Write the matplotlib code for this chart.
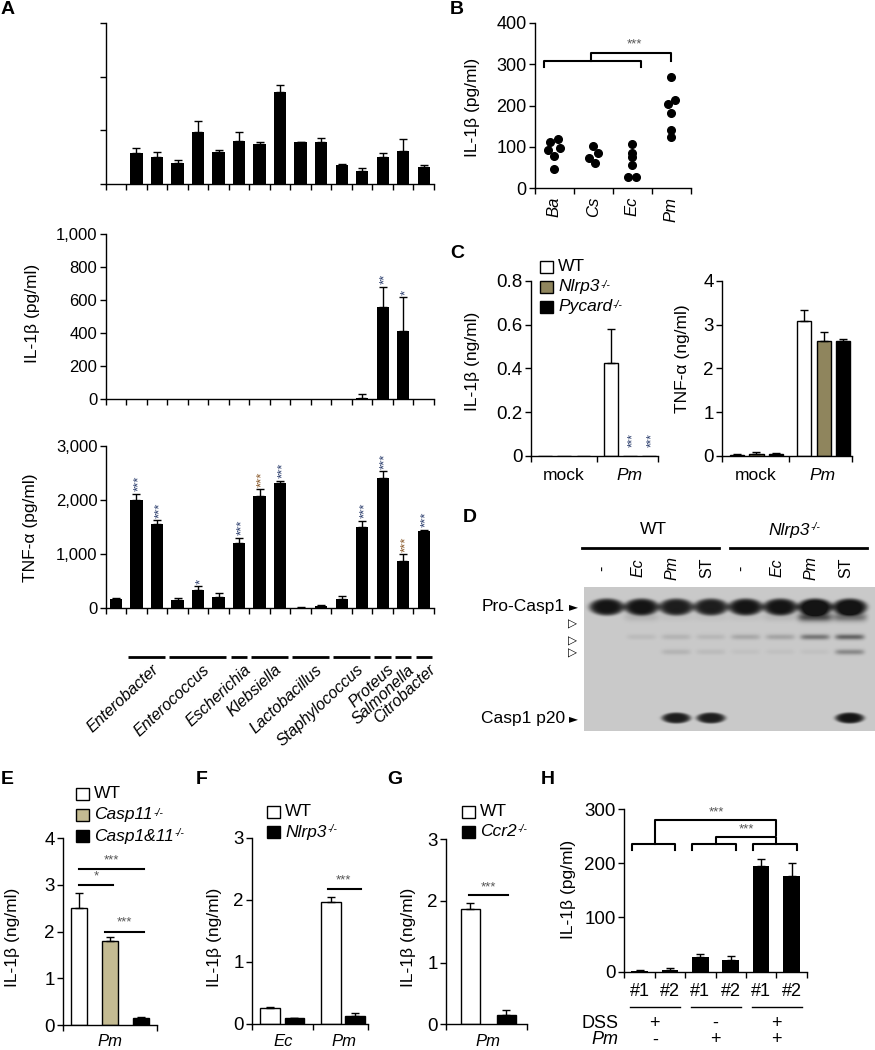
import numpy as np
import matplotlib.pyplot as plt
from matplotlib import transforms
from matplotlib.patches import Rectangle
from matplotlib.ticker import FuncFormatter

plt.rcParams['font.family'] = ['Liberation Sans', 'DejaVu Sans']
plt.rcParams['axes.linewidth'] = 1.0

# ---------------- data ----------------
# A: 16 strains (index 0 = medium control)
genera = ['Enterobacter', 'Enterococcus', 'Escherichia', 'Klebsiella', 'Lactobacillus',
          'Staphylococcus', 'Proteus', 'Salmonella', 'Citrobacter']
genus_sizes = [2, 3, 1, 2, 2, 2, 1, 1, 1]
screen_vals = [0, 0.58, 0.50, 0.40, 0.97, 0.59, 0.80, 0.74, 1.71, 0.78, 0.79, 0.35, 0.25, 0.51, 0.62, 0.31]
screen_err = [0, 0.10, 0.10, 0.04, 0.20, 0.05, 0.16, 0.05, 0.13, 0.01, 0.06, 0.02, 0.04, 0.07, 0.22, 0.04]
il1b_vals = [0, 0, 0, 0, 0, 0, 0, 0, 0, 0, 0, 0, 10, 562, 416, 0]
il1b_err = [0, 0, 0, 0, 0, 0, 0, 0, 0, 0, 0, 0, 20, 117, 202, 0]
il1b_sig = ['', '', '', '', '', '', '', '', '', '', '', '', '', '**', '*', '']
tnf_vals = [180, 2000, 1559, 154, 345, 203, 1201, 2076, 2310, 10, 40, 166, 1497, 2403, 881, 1423]
tnf_err = [15, 113, 68, 31, 62, 80, 99, 124, 50, 5, 15, 68, 123, 129, 117, 31]
tnf_sig = ['', '***', '***', '', '*', '', '***', '***', '***', '', '', '', '***', '***', '***', '***']

# B: IL-1b per isolate
b_species = ['Ba', 'Cs', 'Ec', 'Pm']
b_ba = [111, 120, 93, 98, 78, 47]
b_cs = [101, 85, 72, 60]
b_ec = [106, 86, 76, 56, 28, 27]
b_pm = [270, 213, 203, 183, 142, 125]
b_ba_dx = [-0.12, 0.09, -0.16, 0.14, 0, 0]
b_cs_dx = [0, 0.11, -0.11, 0.03]
b_ec_dx = [0, 0, 0, 0, -0.1, 0.1]
b_pm_dx = [0, 0.1, -0.08, 0, 0, 0]

# C: genotype x condition
c_conditions = ['mock', 'Pm']
c_genotypes = ['WT', 'Nlrp3', 'Pycard']
c_il1b = [[0, 0.426], [0, 0], [0, 0]]
c_il1b_err = [[0, 0.152], [0, 0], [0, 0]]
c_il1b_sig = [['', ''], ['', '***'], ['', '***']]
c_tnf = [[0.03, 3.09], [0.05, 2.63], [0.04, 2.63]]
c_tnf_err = [[0.01, 0.24], [0.03, 0.21], [0.03, 0.03]]

# D: western blot band intensities per lane
blot_lanes = ['-', 'Ec', 'Pm', 'ST', '-', 'Ec', 'Pm', 'ST']
pro_casp1 = [1.0, 1.0, 0.95, 0.95, 1.0, 1.0, 1.1, 1.05]
cleaved_a = [0.0, 0.12, 0.05, 0.05, 0.05, 0.1, 0.7, 0.5]
cleaved_b = [0.0, 0.08, 0.12, 0.1, 0.18, 0.2, 0.45, 0.55]
cleaved_c = [0.0, 0.0, 0.12, 0.08, 0.05, 0.05, 0.05, 0.35]
casp1_p20 = [0, 0, 0.95, 0.95, 0, 0, 0, 1.0]

# E
e_vals = [2.51, 1.79, 0.14]
e_err = [0.32, 0.10, 0.03]
# F
f_groups = ['Ec', 'Pm']
f_wt = [0.25, 1.97]
f_wt_err = [0.02, 0.08]
f_ko = [0.09, 0.13]
f_ko_err = [0.01, 0.04]
# G
g_vals = [1.87, 0.15]
g_err = [0.10, 0.08]
# H
h_labels = ['#1', '#2', '#1', '#2', '#1', '#2']
h_vals = [2, 3, 27.6, 20.9, 194, 176]
h_err = [1.5, 3, 5.5, 8.6, 14, 25]
h_dss = ['+', '-', '+']
h_pm = ['-', '+', '+']

W, H = 875, 1050
fig = plt.figure(figsize=(8.75, 10.5), dpi=100)

NAVY = '#2d3f6e'
BROWN = '#8a5a2b'
GREY = '#555555'
OLIVE = '#8f855d'
KHAKI = '#c4bb92'
TICK_FS = 12
LAB_FS = 12.5
STAR_FS = 9.5


def fx(x):
    return x / W


def fy(y):
    return 1 - y / H


def px_axes(x0, y0, x1, y1):
    ax = fig.add_axes([x0 / W, 1 - y1 / H, (x1 - x0) / W, (y1 - y0) / H])
    ax.spines['top'].set_visible(False)
    ax.spines['right'].set_visible(False)
    ax.tick_params(direction='out', length=4, width=1, labelsize=TICK_FS, pad=2)
    return ax


def bt(ax):
    return transforms.blended_transform_factory(ax.transData, fig.transFigure)


def err_up(ax, x, v, e):
    x, v, e = np.asarray(x, float), np.asarray(v, float), np.asarray(e, float)
    m = e > 0
    ax.errorbar(x[m], v[m], yerr=[np.zeros(m.sum()), e[m]], fmt='none', ecolor='k',
                elinewidth=1, capsize=3, capthick=1)


def vstars(ax, x, y, s, color, fs=STAR_FS):
    # rotated asterisks sit left of centre, so nudge them right
    ax.annotate(s, (x, y), xytext=(2, 2), textcoords='offset points', rotation=90,
                ha='center', va='bottom', fontsize=fs, color=color)


def ylab(x, y, s):
    fig.text(fx(x), fy(y), s, rotation=90, ha='center', va='center', fontsize=LAB_FS)


def letter(x, y, s):
    fig.text(fx(x), fy(y), s, ha='center', va='center', fontsize=14, fontweight='bold')


def ko_label(ax, x, y, name, transform, fs=LAB_FS, ha='left'):
    t = ax.text(x, y, name, transform=transform, style='italic', fontsize=fs, ha=ha, va='center')
    ax.annotate('-/-', xy=(1, 1), xycoords=t, xytext=(0.5, 0), textcoords='offset points',
                ha='left', va='top', fontsize=fs * 0.6, style='italic', annotation_clip=False)


def legend_box(ax, x, y, color, label, knockout=True):
    fig.add_artist(Rectangle((fx(x), fy(y + 6)), 13 / W, 12 / H, transform=fig.transFigure,
                             facecolor=color, edgecolor='k', lw=1))
    if knockout:
        ko_label(ax, fx(x + 18), fy(y), label, fig.transFigure)
    else:
        fig.text(fx(x + 18), fy(y), label, ha='left', va='center', fontsize=LAB_FS)


comma = FuncFormatter(lambda v, p: f'{int(v):,}')

# ---------------- A ----------------
xa = np.arange(16) + 0.5
axA1 = px_axes(105.7, 23, 434, 184)
axA1.bar(xa, screen_vals, 0.6, color='k')
err_up(axA1, xa, screen_vals, screen_err)
axA1.set_xlim(0, 16)
axA1.set_ylim(0, 3)
axA1.set_yticks([0, 1, 2, 3])
axA1.set_yticklabels([])
axA1.set_xticks(np.arange(17))
axA1.set_xticklabels([])

axA2 = px_axes(105.7, 234.3, 434, 399.3)
axA2.bar(xa, il1b_vals, 0.6, color='k')
err_up(axA2, xa, il1b_vals, il1b_err)
for i, s in enumerate(il1b_sig):
    if s:
        vstars(axA2, xa[i], il1b_vals[i] + il1b_err[i], s, NAVY)
axA2.set_xlim(0, 16)
axA2.set_ylim(0, 1000)
axA2.set_yticks(range(0, 1001, 200))
axA2.yaxis.set_major_formatter(comma)
axA2.set_xticks(np.arange(17))
axA2.set_xticklabels([])
ylab(32, 313, 'IL-1β (pg/ml)')

axA3 = px_axes(105.7, 446, 434, 608.3)
axA3.bar(xa, tnf_vals, 0.6, color='k')
err_up(axA3, xa, tnf_vals, tnf_err)
for i, s in enumerate(tnf_sig):
    if s:
        vstars(axA3, xa[i], tnf_vals[i] + tnf_err[i], s, BROWN if i in (7, 14) else NAVY)
axA3.set_xlim(0, 16)
axA3.set_ylim(0, 3000)
axA3.set_yticks(range(0, 3001, 1000))
axA3.yaxis.set_major_formatter(comma)
axA3.set_xticks(np.arange(17))
axA3.set_xticklabels([])
ylab(31, 528, 'TNF-α (pg/ml)')

# genus brackets and labels
start = 1
for g, n in zip(genera, genus_sizes):
    axA3.plot([start + 0.1, start + n - 0.12], [fy(657), fy(657)], color='k', lw=2,
              transform=bt(axA3), clip_on=False, solid_capstyle='butt')
    axA3.text(start + n / 2 + 0.2, fy(662), g, transform=bt(axA3), rotation=43,
              rotation_mode='anchor', ha='right', va='top', fontsize=11.5, style='italic')
    start += n

# ---------------- B ----------------
axB = px_axes(535, 22.7, 690.7, 188.3)
for i, (vals, dx) in enumerate(zip([b_ba, b_cs, b_ec, b_pm], [b_ba_dx, b_cs_dx, b_ec_dx, b_pm_dx])):
    axB.plot(np.array(dx) + i + 0.5, vals, 'o', color='k', ms=5.5, clip_on=False)
axB.set_xlim(0, 4)
axB.set_ylim(0, 400)
axB.set_yticks([0, 100, 200, 300, 400])
axB.tick_params(axis='y', labelsize=13)
axB.set_xticks(np.arange(5))
axB.set_xticklabels([])
axB.set_xticks(np.arange(4) + 0.5, minor=True)
axB.set_xticklabels(b_species, minor=True, rotation=90, style='italic', fontsize=12)
axB.tick_params(axis='x', which='minor', length=0, pad=6)
axB.plot([0.24, 0.24, 2.72, 2.72], [294, 307, 307, 294], color='k', lw=1.5, clip_on=False)
axB.plot([1.45, 1.45, 3.5, 3.5], [307, 328, 328, 307], color='k', lw=1.5, clip_on=False)
axB.text(2.56, 333, '***', ha='center', va='bottom', fontsize=STAR_FS, color=GREY)
ylab(473, 107, 'IL-1β (pg/ml)')

# ---------------- C ----------------
c_off = [0.22, 0.51, 0.80]
c_cols = ['white', OLIVE, 'k']


def c_panel(x0, x1, vals, errs, ymax, yticks, yticklabels):
    ax = px_axes(x0, 280.7, x1, 456)
    for k in range(3):
        xs = np.arange(2) + c_off[k]
        ax.bar(xs, vals[k], 0.21, color=c_cols[k], edgecolor='k', lw=1)
        err_up(ax, xs, vals[k], errs[k])
    ax.set_xlim(0, 1.93)
    ax.set_ylim(0, ymax)
    ax.set_yticks(yticks)
    ax.set_yticklabels(yticklabels)
    ax.tick_params(axis='y', labelsize=13.5)
    ax.set_xticks([0, 1, 1.93])
    ax.set_xticklabels([])
    for j, c in enumerate(c_conditions):
        ax.text(j + 0.5, fy(475), c, transform=bt(ax), ha='center', va='center', fontsize=LAB_FS,
                style='italic' if c == 'Pm' else 'normal')
    return ax


axC1 = c_panel(530.7, 658, c_il1b, c_il1b_err, 0.8, [0, 0.2, 0.4, 0.6, 0.8],
               ['0', '0.2', '0.4', '0.6', '0.8'])
for k in range(3):
    for j in range(2):
        s = c_il1b_sig[k][j]
        if s:
            vstars(axC1, j + c_off[k], 0.03, s, NAVY, fs=8.5)
ylab(472, 361, 'IL-1β (ng/ml)')
axC2 = c_panel(722.3, 851.7, c_tnf, c_tnf_err, 4, [0, 1, 2, 3, 4], ['0', '1', '2', '3', '4'])
ylab(682, 359, 'TNF-α (ng/ml)')
legend_box(axC1, 540, 267, 'white', 'WT', knockout=False)
legend_box(axC1, 540, 287, OLIVE, 'Nlrp3')
legend_box(axC1, 540, 307, 'k', 'Pycard')

# ---------------- D ----------------
LANE = 34.7
axD = fig.add_axes([fx(584), fy(731), (875 - 584) / W, (731 - 587) / H])
hgt, wid = 144, 291
yy, xx = np.mgrid[0:hgt, 0:wid] + 0.5
dark = np.zeros((hgt, wid))
for i in range(8):
    cx = (i + 0.66) * LANE
    wide = np.exp(-((xx - cx) / 17.0) ** 6)
    narrow = np.exp(-((xx - cx) / 14.5) ** 6)
    pill = np.exp(-(((xx - cx) / 17.5) ** 2 + ((yy - 20) / 8.5) ** 2) ** 3)
    dark += pro_casp1[i] * pill
    dark += cleaved_a[i] * wide * np.exp(-((yy - 30) / 4.5) ** 2)
    dark += cleaved_b[i] * narrow * np.exp(-((yy - 50) / 2.8) ** 2)
    dark += cleaved_c[i] * narrow * np.exp(-((yy - 65) / 2.8) ** 2)
    dark += casp1_p20[i] * np.exp(-(((xx - cx) / 14.5) ** 2 + ((yy - 131) / 5.5) ** 2) ** 3)
img = 0.79 * (1 - 0.9 * np.clip(dark, 0, 1))
axD.imshow(img, cmap='gray', vmin=0, vmax=1, extent=(0, wid / LANE, hgt, 0), aspect='auto',
           interpolation='bilinear')
axD.set_xlim(0, wid / LANE)
axD.set_ylim(hgt, 0)
axD.axis('off')
for i, lab in enumerate(blot_lanes):
    axD.text(i + 0.55, fy(568), lab, transform=bt(axD), rotation=90, ha='center', va='center',
             fontsize=11.5, style='italic' if lab in ('Ec', 'Pm') else 'normal')
for x0, x1 in [(-0.05, 3.9), (4.2, 8.15)]:
    axD.plot([x0, x1], [fy(548.3), fy(548.3)], color='k', lw=2, transform=bt(axD), clip_on=False)
axD.text(2.0, fy(530), 'WT', transform=bt(axD), ha='center', va='center', fontsize=LAB_FS)
ko_label(axD, 5.9, fy(530), 'Nlrp3', bt(axD), ha='center')
fig.text(fx(565), fy(607), 'Pro-Casp1', ha='right', va='center', fontsize=LAB_FS)
fig.text(fx(565), fy(719), 'Casp1 p20', ha='right', va='center', fontsize=LAB_FS)
for yv in (607, 719):
    fig.text(fx(573), fy(yv), '►', ha='center', va='center', fontsize=8.5, family='DejaVu Sans')
for yv in (624, 641, 653):
    fig.text(fx(573), fy(yv), '▷', ha='center', va='center', fontsize=8.5, family='DejaVu Sans')

# ---------------- E ----------------
BOTTOM_Y = 1041
axE = px_axes(63.3, 838.3, 156.7, 1025)
xe = np.arange(3) + 0.5
axE.bar(xe, e_vals, 0.5, color=['white', KHAKI, 'k'], edgecolor='k', lw=1)
err_up(axE, xe, e_vals, e_err)
axE.set_xlim(0, 3)
axE.set_ylim(0, 4)
axE.set_yticks([0, 1, 2, 3, 4])
axE.tick_params(axis='y', labelsize=13.5)
axE.set_xticks([0, 3])
axE.set_xticklabels([])
for x0, x1, yv, s in [(0.5, 2.6, 3.34, '***'), (0.5, 1.6, 2.99, '*'), (1.35, 2.6, 2.0, '***')]:
    axE.plot([x0, x1], [yv, yv], color='k', lw=1.5)
    axE.text((x0 + x1) / 2, yv + 0.06, s, ha='center', va='bottom', fontsize=STAR_FS, color=GREY)
axE.text(1.5, fy(BOTTOM_Y), 'Pm', transform=bt(axE), ha='center', va='center', fontsize=12,
         style='italic')
ylab(13, 937, 'IL-1β (ng/ml)')
legend_box(axE, 76, 794, 'white', 'WT', knockout=False)
legend_box(axE, 76, 815, KHAKI, 'Casp11')
legend_box(axE, 76, 836, 'k', 'Casp1&11')

# ---------------- F ----------------
axF = px_axes(252.3, 837.7, 368, 1024)
xf = np.arange(2)
axF.bar(xf + 0.29, f_wt, 0.32, color='white', edgecolor='k', lw=1)
axF.bar(xf + 0.69, f_ko, 0.32, color='k', edgecolor='k', lw=1)
err_up(axF, xf + 0.29, f_wt, f_wt_err)
err_up(axF, xf + 0.69, f_ko, f_ko_err)
axF.set_xlim(0, 1.9)
axF.set_ylim(0, 3)
axF.set_yticks([0, 1, 2, 3])
axF.tick_params(axis='y', labelsize=13.5)
axF.set_xticks([0, 1, 1.9])
axF.set_xticklabels([])
axF.plot([1.25, 1.78], [2.18, 2.18], color='k', lw=1.5)
axF.text(1.5, 2.22, '***', ha='center', va='bottom', fontsize=STAR_FS, color=GREY)
for j, g in enumerate(f_groups):
    axF.text(j + 0.5, fy(BOTTOM_Y), g, transform=bt(axF), ha='center', va='center', fontsize=12,
             style='italic')
ylab(215, 937, 'IL-1β (ng/ml)')
legend_box(axF, 267, 812, 'white', 'WT', knockout=False)
legend_box(axF, 267, 832, 'k', 'Nlrp3')

# ---------------- G ----------------
axG = px_axes(446, 839.3, 527.3, 1024.3)
xg = [0.3, 0.74]
axG.bar(xg, g_vals, 0.23, color=['white', 'k'], edgecolor='k', lw=1)
err_up(axG, xg, g_vals, g_err)
axG.set_xlim(0, 1)
axG.set_ylim(0, 3)
axG.set_yticks([0, 1, 2, 3])
axG.tick_params(axis='y', labelsize=13.5)
axG.set_xticks([0, 1])
axG.set_xticklabels([])
axG.plot([0.28, 0.76], [2.09, 2.09], color='k', lw=1.5)
axG.text(0.52, 2.13, '***', ha='center', va='bottom', fontsize=STAR_FS, color=GREY)
axG.text(0.52, fy(BOTTOM_Y), 'Pm', transform=bt(axG), ha='center', va='center', fontsize=12,
         style='italic')
ylab(408, 937, 'IL-1β (ng/ml)')
legend_box(axG, 462, 812, 'white', 'WT', knockout=False)
legend_box(axG, 462, 832, 'k', 'Ccr2')

# ---------------- H ----------------
axH = px_axes(624.3, 809, 806.7, 971.7)
xh = np.arange(6) + 0.5
axH.bar(xh, h_vals, 0.55, color='k')
err_up(axH, xh, h_vals, h_err)
axH.set_xlim(0, 6)
axH.set_ylim(0, 300)
axH.set_yticks([0, 100, 200, 300])
axH.tick_params(axis='y', labelsize=13.5)
axH.set_xticks(np.arange(7))
axH.set_xticklabels([])
for p in range(3):
    x0 = 2 * p
    axH.plot([x0 + 0.24, x0 + 0.24, x0 + 1.68, x0 + 1.68], [224, 235.5, 235.5, 224], color='k',
             lw=1.5, clip_on=False)
axH.plot([1, 1, 5, 5], [235.5, 279.6, 279.6, 252], color='k', lw=1.5, clip_on=False)
axH.plot([3, 3, 5, 5], [235.5, 249, 249, 235.5], color='k', lw=1.5, clip_on=False)
axH.text(3.04, 283, '***', ha='center', va='bottom', fontsize=STAR_FS, color=GREY)
axH.text(4.02, 252, '***', ha='center', va='bottom', fontsize=STAR_FS, color=GREY)
for i, lab in enumerate(h_labels):
    axH.text(xh[i], fy(991.7), lab, transform=bt(axH), ha='center', va='center', fontsize=13)
for p in range(3):
    axH.plot([2 * p + 0.19, 2 * p + 1.83], [fy(1007), fy(1007)], color='k', lw=1,
             transform=bt(axH), clip_on=False)
    axH.text(2 * p + 1, fy(1023), h_dss[p], transform=bt(axH), ha='center', va='center', fontsize=13)
    axH.text(2 * p + 1, fy(1040), h_pm[p], transform=bt(axH), ha='center', va='center', fontsize=13)
axH.text(-0.2, fy(1023), 'DSS', transform=bt(axH), ha='right', va='center', fontsize=13)
axH.text(-0.2, fy(1040), 'Pm', transform=bt(axH), ha='right', va='center', fontsize=13, style='italic')
ylab(568, 889, 'IL-1β (pg/ml)')

for x, y, s in [(8, 9, 'A'), (457, 9, 'B'), (457, 253, 'C'), (470, 517, 'D'),
                (7, 780, 'E'), (202, 780, 'F'), (395, 780, 'G'), (548, 780, 'H')]:
    letter(x, y, s)

fig.savefig('out.png', dpi=100)
